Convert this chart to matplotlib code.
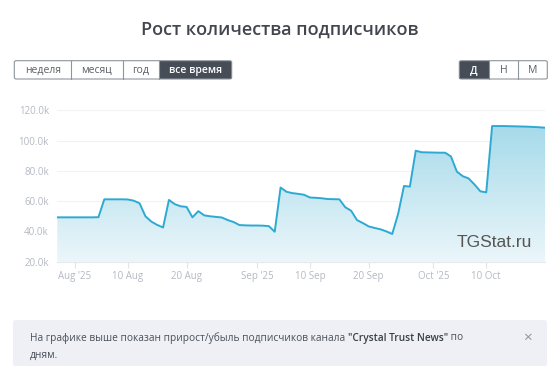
import numpy as np
import pandas as pd
import matplotlib
matplotlib.use("Agg")
import matplotlib.pyplot as plt
import matplotlib.dates as mdates
from matplotlib.patches import Polygon, Rectangle, FancyBboxPatch

plt.rcParams['font.family'] = ['Open Sans', 'DejaVu Sans']

# daily subscriber counts (thousands), 29 Jul .. 20 Oct 2025
dates = pd.date_range("2025-07-29", "2025-10-20", freq="D")
subs = [
    49.3, 49.3, 49.3, 49.3, 49.3, 49.3, 49.3, 49.4,           # 29 Jul - 5 Aug
    61.2, 61.2, 61.2, 61.2, 61.1, 60.3, 58.6, 50.0, 46.5,     # 6 - 14 Aug
    44.3, 42.6, 60.8, 58.0, 56.6, 56.2, 49.3, 53.4, 50.6,     # 15 - 23 Aug
    50.0, 49.6, 49.2, 47.5, 46.2, 44.2, 44.0, 43.9, 43.9,     # 24 Aug - 1 Sep
    43.8, 43.5, 39.8, 69.0, 66.2, 65.3, 64.8, 64.2, 62.4,     # 2 - 10 Sep
    62.2, 61.9, 61.4, 61.3, 61.2, 56.0, 53.7, 47.5, 45.5,     # 11 - 19 Sep
    43.3, 42.3, 41.4, 40.0, 38.3, 51.5, 70.0, 69.6, 93.3,     # 20 - 28 Sep
    92.3, 92.2, 92.1, 92.0, 92.0, 89.5, 79.5, 76.5, 75.0,     # 29 Sep - 7 Oct
    71.0, 66.5, 65.8, 109.6, 109.6, 109.6, 109.5, 109.4,      # 8 - 15 Oct
    109.3, 109.2, 109.0, 108.8, 108.5,                        # 16 - 20 Oct
]
y_ticks = [20, 40, 60, 80, 100, 120]
x_ticks = ["2025-08-01", "2025-08-10", "2025-08-20", "2025-09-01",
           "2025-09-10", "2025-09-20", "2025-10-01", "2025-10-10"]
x_labels = ["Aug '25", "10 Aug", "20 Aug", "Sep '25", "10 Sep", "20 Sep", "Oct '25", "10 Oct"]

W, H = 559, 367
fig = plt.figure(figsize=(W / 100, H / 100), dpi=100)


def fx(x):
    return x / W


def fy(y):
    return 1 - y / H


ax = fig.add_axes([fx(57.3), fy(261.7), fx(545) - fx(57.3), (261.7 - 110.3) / H])

x = mdates.date2num(dates)
y = np.array(subs)

# gradient fill under the line
grad = np.linspace(1, 0, 256).reshape(-1, 1)
top = np.array(matplotlib.colors.to_rgb("#9ed7e8"))
bot = np.array(matplotlib.colors.to_rgb("#ebf6fa"))
img = bot + (top - bot) * grad[..., None]
im = ax.imshow(img, extent=[x[0], x[-1], 20, 120], aspect="auto", origin="upper", zorder=1)
verts = [(x[0], 20)] + list(zip(x, y)) + [(x[-1], 20)]
clip = Polygon(verts, closed=True, facecolor="none", edgecolor="none", transform=ax.transData)
ax.add_patch(clip)
im.set_clip_path(clip)

ax.plot(x, y, color="#2eaad2", linewidth=1.4, zorder=3, solid_joinstyle="round")

ax.set_xlim(x[0], x[-1])
ax.set_ylim(20, 120)
ax.set_yticks(y_ticks)
ax.set_yticklabels([f"{v:.1f}k" for v in y_ticks])
ax.set_xticks(mdates.date2num(pd.to_datetime(x_ticks)))
ax.set_xticklabels(x_labels)
ax.grid(axis="y", color="#f2f2f2", linewidth=0.8, zorder=0)
ax.set_axisbelow(True)
for s in ["top", "right", "left"]:
    ax.spines[s].set_visible(False)
ax.spines["bottom"].set_color("#e6e8ec")
ax.tick_params(axis="y", length=0, pad=6, labelsize=7, labelcolor="#b4b9c2")
ax.tick_params(axis="x", length=4, width=0.8, color="#e1e4e8", pad=3, labelsize=7, labelcolor="#b4b9c2")

ax.text(0.973, 0.13, "TGStat.ru", transform=ax.transAxes, ha="right", va="center",
        fontsize=12.5, color="#555555", family="Liberation Sans", zorder=4)

# title
fig.text(fx(280), fy(30), "Рост количества подписчиков", ha="center", va="center",
         fontsize=13, color="#42474f", fontweight="semibold")


# button groups
def button_group(x0, x1, y0, y1, seps, labels, active):
    edges = [x0] + seps + [x1]
    for i, lab in enumerate(labels):
        a, b = edges[i], edges[i + 1]
        if i == active:
            fig.add_artist(Rectangle((fx(a), fy(y1)), fx(b) - fx(a), fy(y0) - fy(y1),
                                     facecolor="#474d57", edgecolor="none"))
            color, weight = "white", "semibold"
        else:
            color, weight = "#5a5f68", "normal"
        fig.text(fx((a + b) / 2), fy((y0 + y1) / 2 + 0.5), lab, ha="center", va="center",
                 fontsize=7.5, color=color, fontweight=weight)
    fig.add_artist(FancyBboxPatch((fx(x0), fy(y1)), fx(x1) - fx(x0), fy(y0) - fy(y1),
                                  boxstyle="round,pad=0,rounding_size=0.004",
                                  facecolor="none", edgecolor="#8e949c", linewidth=0.8))
    for s in seps:
        fig.add_artist(plt.Line2D([fx(s), fx(s)], [fy(y0), fy(y1)], color="#8e949c", linewidth=0.8))


button_group(14.3, 231.7, 60.7, 79, [71, 122.7, 159.3], ["неделя", "месяц", "год", "все время"], 3)
button_group(459.3, 547.3, 60.7, 79, [489, 517.7], ["Д", "Н", "М"], 0)

# info box
fig.add_artist(FancyBboxPatch((fx(13), fy(366)), fx(547) - fx(13), fy(320) - fy(366),
                              boxstyle="round,pad=0,rounding_size=0.005",
                              facecolor="#eef0f5", edgecolor="none"))
fig.canvas.draw()
r = fig.canvas.get_renderer()
t1 = fig.text(fx(30), fy(338), "На графике выше показан прирост/убыль подписчиков канала ",
              ha="left", va="center", fontsize=7.3, color="#4a4f58")
bb = t1.get_window_extent(r)
t2 = fig.text(bb.x1 / W, fy(338), '"Crystal Trust News"', ha="left", va="center",
              fontsize=7.3, color="#3a3f47", fontweight="semibold")
bb2 = t2.get_window_extent(r)
fig.text(bb2.x1 / W, fy(338), " по", ha="left", va="center", fontsize=7.3, color="#4a4f58")
fig.text(fx(30), fy(355), "дням.", ha="left", va="center", fontsize=7.3, color="#4a4f58")
fig.text(fx(527), fy(338), "×", ha="center", va="center", fontsize=11, color="#8e949c")

fig.savefig("out.png", dpi=100)
